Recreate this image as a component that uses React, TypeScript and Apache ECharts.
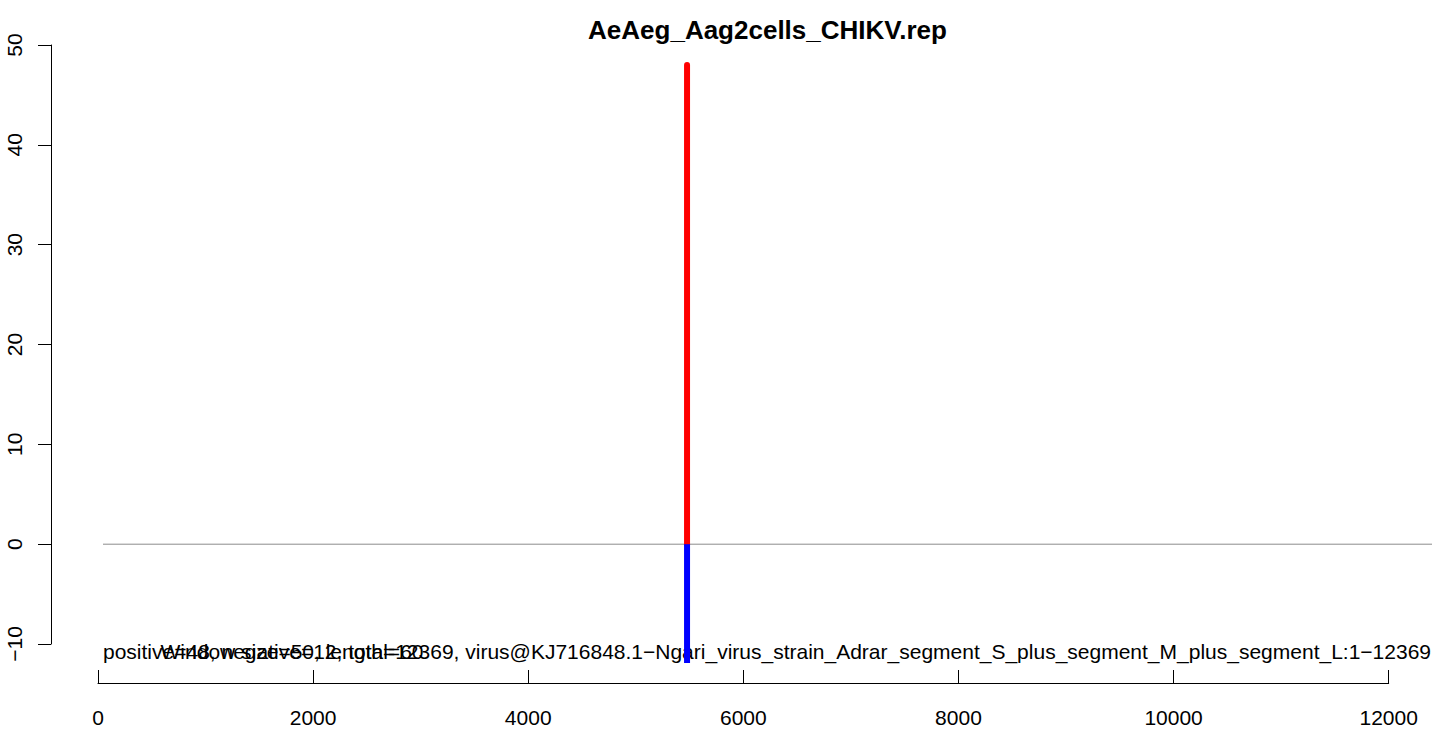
import React, { useEffect, useRef } from "react";
import * as echarts from "echarts";

const chartTitle = "AeAeg_Aag2cells_CHIKV.rep";
const barPositions = [5476];
const positiveValues = [48];
const negativeValues = [-12];
const xAxisRange = [0, 12000];
const xTickInterval = 2000;
const yAxisRange = [-10, 50];
const yTickInterval = 10;
const plotXRange = [46, 12402];
const plotYMin = -11.6;
const countsText = "positive=48, negative=12, total=60";
const infoText =
  "Window size=50, length=12369, virus@KJ716848.1\u2212Ngari_virus_strain_Adrar_segment_S_plus_segment_M_plus_segment_L:1\u221212369";

const FONT = "'Liberation Sans', Arial, Helvetica, sans-serif";

export default function App() {
  const ref = useRef<HTMLDivElement>(null);
  useEffect(() => {
    if (!ref.current) return;
    const chart = echarts.init(ref.current, undefined, { renderer: "svg" });
    const minus = (v: number) => String(v).replace("-", "\u2212");
    const option: any = {
      animation: false,
      backgroundColor: "#ffffff",
      textStyle: { fontFamily: FONT },
      grid: [
        { left: 103, top: 45, width: 1329, height: 615, outerBoundsMode: "none" },
        { left: 51, top: 45, width: 1, height: 599, outerBoundsMode: "none" },
        { left: 98, top: 683, width: 1290.7, height: 1, outerBoundsMode: "none" },
      ],
      xAxis: [
        { gridIndex: 0, type: "value", min: plotXRange[0], max: plotXRange[1], show: false },
        { gridIndex: 1, type: "value", min: 0, max: 1, show: false },
        {
          gridIndex: 2,
          type: "value",
          position: "top",
          min: xAxisRange[0],
          max: xAxisRange[1],
          interval: xTickInterval,
          splitLine: { show: false },
          axisLine: { show: true, onZero: false, lineStyle: { color: "#000", width: 1 } },
          axisTick: { show: true, inside: false, length: 13, lineStyle: { color: "#000", width: 1 } },
          axisLabel: { show: false },
        },
        {
          gridIndex: 2,
          type: "value",
          position: "bottom",
          offset: -1,
          min: xAxisRange[0],
          max: xAxisRange[1],
          interval: xTickInterval,
          splitLine: { show: false },
          axisLine: { show: false },
          axisTick: { show: false },
          axisLabel: {
            show: true,
            color: "#000",
            fontSize: 21,
            fontFamily: FONT,
            margin: 24,
            formatter: (v: number) => String(v),
          },
        },
      ],
      yAxis: [
        { gridIndex: 0, type: "value", min: plotYMin, max: yAxisRange[1], show: false },
        {
          gridIndex: 1,
          type: "value",
          min: yAxisRange[0],
          max: yAxisRange[1],
          interval: yTickInterval,
          position: "left",
          splitLine: { show: false },
          axisLine: { show: true, onZero: false, lineStyle: { color: "#000", width: 1 } },
          axisTick: { show: true, length: 13, lineStyle: { color: "#000", width: 1 } },
          axisLabel: {
            show: true,
            rotate: 90,
            color: "#000",
            fontSize: 21,
            fontFamily: FONT,
            margin: 26,
            formatter: (v: number) => minus(v),
          },
        },
        { gridIndex: 2, type: "value", min: 0, max: 1, show: false },
      ],
      series: [
        {
          type: "line",
          xAxisIndex: 0,
          yAxisIndex: 0,
          symbol: "none",
          silent: true,
          clip: true,
          z: 3,
          data: [[plotXRange[0], 0], [plotXRange[1], 0]],
          lineStyle: { color: "#8c8c8c", width: 1 },
        },
        ...barPositions.map((x, i) => ({
          type: "line",
          xAxisIndex: 0,
          yAxisIndex: 0,
          symbol: "none",
          clip: true,
          z: 4,
          data: [[x, 0], [x, positiveValues[i]]],
          lineStyle: { color: "#ff0000", width: 6, cap: "round" },
        })),
        ...barPositions.map((x, i) => ({
          type: "line",
          xAxisIndex: 0,
          yAxisIndex: 0,
          symbol: "none",
          clip: true,
          z: 6,
          data: [[x, 0], [x, negativeValues[i]]],
          lineStyle: { color: "#0000ff", width: 6, cap: "butt" },
        })),
      ],
      graphic: [
        {
          type: "text",
          x: 767.5,
          y: 30,
          z: 10,
          style: {
            text: chartTitle,
            fill: "#000",
            font: `bold 26px ${FONT}`,
            align: "center",
            verticalAlign: "middle",
          },
        },
        {
          type: "text",
          x: 103,
          y: 651,
          z: 1,
          style: {
            text: countsText,
            fill: "#000",
            font: `21px ${FONT}`,
            align: "left",
            verticalAlign: "middle",
          },
        },
        {
          type: "text",
          x: 1431,
          y: 651,
          z: 1,
          style: {
            text: infoText,
            fill: "#000",
            font: `21px ${FONT}`,
            align: "right",
            verticalAlign: "middle",
          },
        },
      ],
    };
    chart.setOption(option);
    return () => chart.dispose();
  }, []);
  return (
    <div
      ref={ref}
      style={{ position: "fixed", left: 0, top: 0, width: 1439, height: 734 }}
    />
  );
}
